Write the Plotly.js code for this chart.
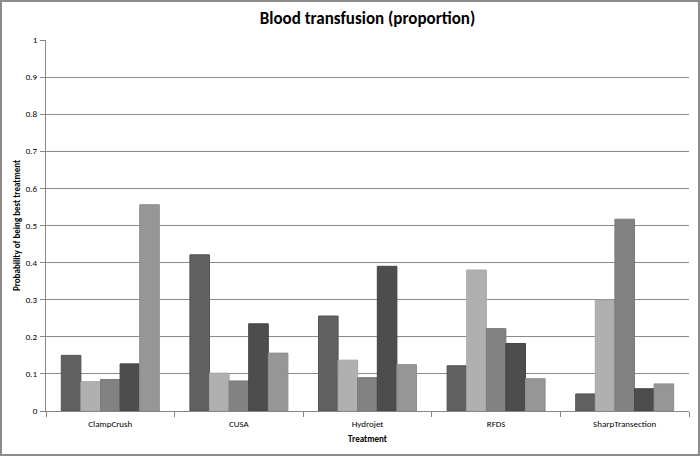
<!DOCTYPE html>
<html>
<head>
<meta charset="utf-8">
<script src="https://cdn.plot.ly/plotly-3.0.1.min.js"></script>
<style>
html,body{margin:0;padding:0;background:#fff;}
#wrap{position:relative;width:700px;height:456px;}
#chart{width:700px;height:456px;}
#frame{position:absolute;left:0;top:0;width:700px;height:456px;box-sizing:border-box;border:2px solid #8c8c8c;pointer-events:none;}
</style>
</head>
<body>
<div id="wrap"><div id="chart"></div><div id="frame"></div></div>
<script>
const categories = ["ClampCrush", "CUSA", "Hydrojet", "RFDS", "SharpTransection"];
const series1 = [0.150, 0.421, 0.256, 0.122, 0.046];
const series2 = [0.079, 0.102, 0.137, 0.380, 0.299];
const series3 = [0.085, 0.081, 0.090, 0.222, 0.517];
const series4 = [0.127, 0.235, 0.390, 0.182, 0.060];
const series5 = [0.556, 0.156, 0.125, 0.087, 0.073];
const seriesValues = [series1, series2, series3, series4, series5];
const seriesNames = ["Series 1", "Series 2", "Series 3", "Series 4", "Series 5"];
const fills = ["#606060", "#b0b0b0", "#828282", "#4d4d4d", "#969696"];
const outlines = ["#555555", "#a8a8a8", "#7a7a7a", "#444444", "#8e8e8e"];
const yTicks = [0, 0.1, 0.2, 0.3, 0.4, 0.5, 0.6, 0.7, 0.8, 0.9, 1];
const yTickText = ["0", "0.1", "0.2", "0.3", "0.4", "0.5", "0.6", "0.7", "0.8", "0.9", "1"];

const FONT = "Carlito, Calibri, 'Open Sans', 'Liberation Sans', sans-serif";

const traces = seriesValues.map((vals, i) => ({
  type: "bar",
  x: categories,
  y: vals,
  name: seriesNames[i],
  marker: {color: fills[i], line: {color: outlines[i], width: 1}},
  hoverinfo: "x+y"
}));

const layout = {
  width: 700, height: 456,
  margin: {l: 46, r: 11, t: 40, b: 45},
  paper_bgcolor: "#ffffff",
  plot_bgcolor: "#ffffff",
  showlegend: false,
  barmode: "group",
  bargap: 0.238,
  bargroupgap: 0,
  font: {family: FONT, size: 9, color: "#000"},
  title: {
    text: "<b>Blood transfusion (proportion)</b>",
    font: {family: FONT, size: 17, color: "#000"},
    x: 0.5, xref: "paper", xanchor: "center",
    y: 0.96, yref: "container", yanchor: "middle"
  },
  xaxis: {
    type: "category",
    showgrid: false,
    showline: true, linecolor: "#868686", linewidth: 1,
    ticks: "outside", tickson: "boundaries", ticklen: 5, tickcolor: "#868686",
    ticklabelstandoff: 4,
    tickfont: {family: FONT, size: 9, color: "#000"},
    title: {text: "<b>Treatment</b>", font: {family: FONT, size: 9, color: "#000"}, standoff: 7},
    zeroline: false
  },
  yaxis: {
    range: [0, 1],
    tickvals: yTicks, ticktext: yTickText,
    showgrid: true, gridcolor: "#8a8a8a", gridwidth: 1,
    showline: true, linecolor: "#868686", linewidth: 1,
    ticks: "outside", ticklen: 5, tickcolor: "#868686",
    ticklabelstandoff: 1,
    tickfont: {family: FONT, size: 9, color: "#000"},
    title: {text: "<b>Probability of being best treatment</b>", font: {family: FONT, size: 9, color: "#000"}, standoff: 3},
    zeroline: false,
    fixedrange: true
  }
};

Plotly.newPlot("chart", traces, layout, {displayModeBar: false, staticPlot: true});
</script>
</body>
</html>
